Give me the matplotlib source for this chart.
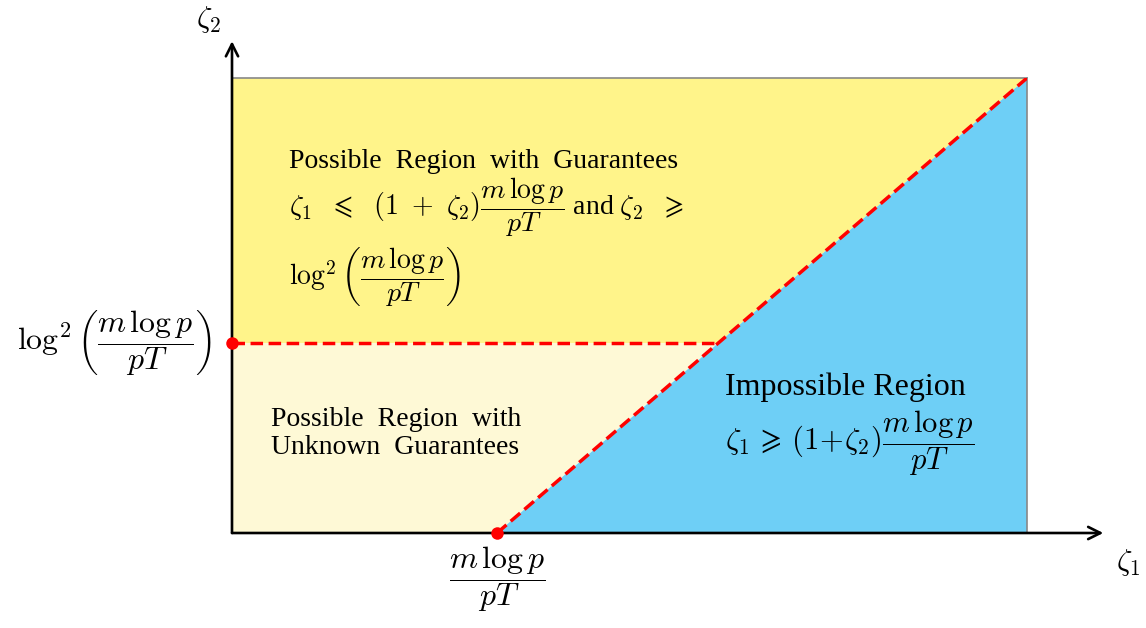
import matplotlib.pyplot as plt

plt.rcParams['font.family'] = ['Liberation Serif', 'DejaVu Serif']
plt.rcParams['mathtext.fontset'] = 'cm'

# diagram quantities (x measured in units of m log p / pT)
threshold = 1.0          # zeta_1 where the boundary meets the axis
log2_level = 0.835       # zeta_2 = log^2(m log p / pT)
zeta1_max = 3.0
zeta2_max = 2.0

frac = r'\dfrac{m\,\log p}{pT}'
log2_label = r'$\log^2\left(' + frac + r'\right)$'

# boundary zeta_1 = (1 + zeta_2) * threshold
def boundary(z2):
    return (1 + z2) * threshold

cross = boundary(log2_level)

yellow = '#fff48a'
pale = '#fef9d6'
blue = '#6ecff6'
red = '#ff0000'

fig = plt.figure(figsize=(11.46, 6.28), dpi=100)
ax = fig.add_axes([232 / 1146, 95 / 628, 795 / 1146, 455 / 628])
ax.set_xlim(0, zeta1_max)
ax.set_ylim(0, zeta2_max)

ax.fill([0, 0, zeta1_max, cross], [log2_level, zeta2_max, zeta2_max, log2_level],
        color=yellow, lw=0)
ax.fill([0, threshold, cross, 0], [0, 0, log2_level, log2_level], color=pale, lw=0)
ax.fill([threshold, zeta1_max, boundary(zeta2_max)], [0, 0, zeta2_max],
        color=blue, lw=0)

ax.plot([threshold, boundary(zeta2_max)], [0, zeta2_max], color=red, lw=2.5,
        dashes=(3.6, 1.6), zorder=4)
ax.plot([0, cross], [log2_level, log2_level], color=red, lw=2.5,
        dashes=(3.6, 1.6), zorder=4)
ax.plot([0, threshold], [log2_level, 0], 'o', color=red, ms=9, mec='none',
        clip_on=False, zorder=6, ls='none')

for side in ['top', 'right']:
    ax.spines[side].set_color('#888888')
    ax.spines[side].set_linewidth(1.2)
for side in ['left', 'bottom']:
    ax.spines[side].set_visible(False)
ax.set_xticks([])
ax.set_yticks([])

# axes with arrow heads
arrow = dict(arrowstyle='->', color='black', lw=1.9, mutation_scale=22,
             shrinkA=0, shrinkB=0)
ax.annotate('', xy=(zeta1_max * 1.096, 0), xytext=(0, 0), arrowprops=arrow,
            annotation_clip=False, zorder=5)
ax.annotate('', xy=(0, zeta2_max * 1.081), xytext=(0, 0), arrowprops=arrow,
            annotation_clip=False, zorder=5)

fs = 20
mfs = 23
ax.annotate(r'$\zeta_1$', xy=(zeta1_max * 1.096, 0), xytext=(25, -30),
            textcoords='offset pixels', ha='center', va='center', fontsize=22,
            annotation_clip=False)
ax.annotate(r'$\zeta_2$', xy=(0, zeta2_max * 1.081), xytext=(-24, 22),
            textcoords='offset pixels', ha='center', va='center', fontsize=22,
            annotation_clip=False)

# threshold labels on the axes
ax.annotate('$' + frac + '$', xy=(threshold, 0), xytext=(0, -46),
            textcoords='offset pixels', ha='center', va='center', fontsize=mfs,
            annotation_clip=False)
ax.annotate(log2_label, xy=(0, log2_level), xytext=(-20, 0),
            textcoords='offset pixels', ha='right', va='center', fontsize=mfs,
            annotation_clip=False)

# region descriptions
ax.text(0.0717, 0.802, 'Possible  Region  with  Guarantees', transform=ax.transAxes,
        fontsize=fs, va='baseline')
ax.text(0.0717, 0.699,
        r'$\zeta_1\ \ \leqslant\ \ (1\ +\ \zeta_2)' + frac + r'$ and $\zeta_2\ \ \geqslant$',
        transform=ax.transAxes, fontsize=fs, va='baseline')
ax.text(0.0717, 0.545, log2_label, transform=ax.transAxes, fontsize=fs, va='baseline')

ax.text(0.049, 0.235, 'Possible  Region  with', transform=ax.transAxes,
        fontsize=fs, va='baseline')
ax.text(0.049, 0.174, 'Unknown  Guarantees', transform=ax.transAxes,
        fontsize=fs, va='baseline')

ax.text(0.620, 0.303, 'Impossible Region', transform=ax.transAxes,
        fontsize=23, va='baseline')
ax.text(0.620, 0.182, r'$\zeta_1\,\geqslant\,(1\!+\!\zeta_2)' + frac + '$',
        transform=ax.transAxes, fontsize=22, va='baseline')

fig.savefig('out.png', dpi=100)
